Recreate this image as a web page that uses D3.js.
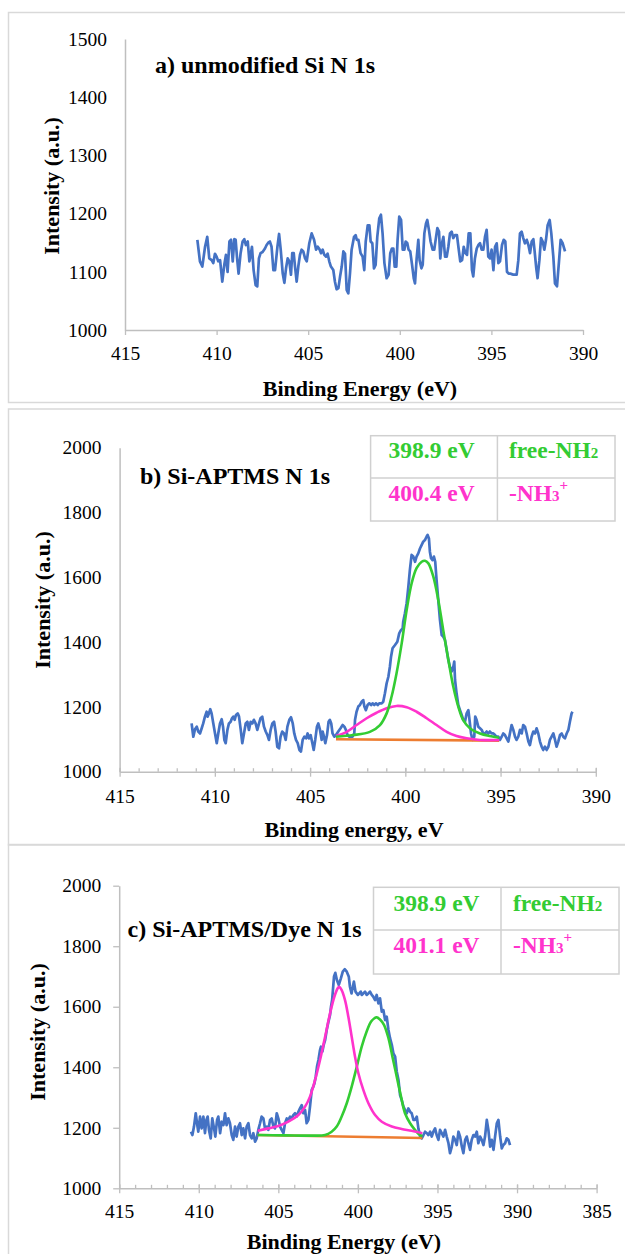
<!DOCTYPE html>
<html>
<head>
<meta charset="utf-8">
<script src="https://cdn.jsdelivr.net/npm/d3@7"></script>
<style>
  body { margin: 0; background: #fff; }
  text { font-family: "Liberation Serif", "Times New Roman", serif; }
</style>
</head>
<body>
<script>
// ---- panel a: unmodified Si, N 1s ----
const energyA = [
  411.05,410.91,410.78,410.63,410.51,410.40,410.27,410.18,410.09,410.00,
  409.91,409.81,409.69,409.58,409.49,409.40,409.30,409.21,409.12,409.03,
  408.96,408.89,408.80,408.69,408.58,408.49,408.40,408.30,408.21,408.14,
  408.07,407.98,407.87,407.78,407.69,407.60,407.49,407.36,407.27,407.18,
  407.09,407.00,406.90,406.81,406.68,406.59,406.50,406.39,406.30,406.21,
  406.12,406.03,405.94,405.87,405.79,405.72,405.63,405.54,405.45,405.36,
  405.27,405.17,405.08,404.94,404.81,404.68,404.57,404.48,404.39,404.30,
  404.21,404.12,404.03,403.94,403.85,403.76,403.63,403.54,403.45,403.35,
  403.26,403.17,403.08,402.99,402.90,402.81,402.72,402.63,402.50,402.41,
  402.35,402.26,402.14,402.03,401.94,401.86,401.75,401.66,401.59,401.50,
  401.41,401.32,401.23,401.12,401.03,400.94,400.84,400.72,400.61,400.52,
  400.43,400.35,400.28,400.19,400.12,400.03,399.93,399.84,399.75,399.68,
  399.59,399.52,399.43,399.33,399.24,399.17,399.08,398.99,398.92,398.82,
  398.75,398.66,398.57,398.50,398.41,398.32,398.21,398.12,398.02,397.95,
  397.86,397.79,397.72,397.62,397.53,397.44,397.35,397.26,397.17,397.08,
  396.99,396.88,396.79,396.70,396.60,396.51,396.42,396.33,396.24,396.15,
  396.06,395.99,395.90,395.80,395.71,395.62,395.53,395.44,395.35,395.26,
  395.17,395.08,394.99,394.89,394.80,394.71,394.62,394.53,394.42,394.33,
  394.24,394.15,394.06,393.98,393.89,393.80,393.71,393.62,393.53,393.44,
  393.35,393.26,393.17,393.07,392.98,392.89,392.80,392.71,392.64,392.55,
  392.48,392.38,392.29,392.20,392.11,392.02,391.93,391.82,391.73,391.62,
  391.53,391.42,391.31,391.22,391.11,390.98
];
const intensityA = [
  1155,1118,1109,1143,1160,1123,1120,1115,1131,1126,
  1118,1120,1083,1112,1129,1100,1152,1155,1118,1156,
  1155,1126,1097,1132,1152,1156,1146,1152,1118,1129,
  1143,1103,1077,1075,1123,1132,1134,1140,1146,1150,
  1152,1143,1103,1103,1143,1165,1138,1097,1081,1106,
  1123,1118,1095,1132,1132,1109,1083,1109,1129,1138,
  1135,1123,1118,1149,1166,1155,1138,1143,1139,1132,
  1138,1129,1126,1131,1118,1109,1103,1083,1070,1072,
  1092,1109,1135,1131,1069,1063,1097,1138,1160,1163,
  1155,1155,1132,1126,1103,1152,1180,1180,1152,1149,
  1106,1112,1160,1192,1198,1166,1115,1089,1095,1132,
  1140,1140,1109,1109,1155,1195,1189,1138,1138,1152,
  1149,1138,1135,1112,1089,1080,1123,1155,1120,1106,
  1112,1166,1183,1189,1172,1152,1138,1138,1160,1175,
  1169,1123,1146,1160,1126,1126,1143,1166,1169,1158,
  1163,1163,1140,1118,1120,1143,1132,1129,1166,1166,
  1103,1092,1123,1140,1146,1149,1138,1138,1160,1172,
  1126,1123,1138,1103,1143,1149,1115,1118,1146,1155,
  1152,1100,1097,1097,1096,1095,1095,1095,1120,1166,
  1169,1158,1149,1155,1146,1132,1152,1156,1135,1106,
  1089,1120,1158,1152,1138,1155,1180,1189,1166,1126,
  1080,1075,1118,1155,1149,1135
];

// ---- panel b: Si-APTMS, N 1s ----
const energyB = [
  411.22,411.13,411.04,410.95,410.87,410.78,410.69,410.61,410.52,410.43,
  410.38,410.31,410.24,410.17,410.08,409.99,409.90,409.82,409.73,409.64,
  409.57,409.50,409.43,409.34,409.26,409.17,409.10,409.03,408.96,408.89,
  408.80,408.73,408.64,408.56,408.47,408.38,408.29,408.21,408.12,408.03,
  407.95,407.86,407.77,407.68,407.60,407.51,407.42,407.33,407.24,407.16,
  407.07,406.98,406.89,406.81,406.72,406.63,406.55,406.46,406.37,406.28,
  406.19,406.09,406.00,405.91,405.83,405.74,405.65,405.56,405.48,405.39,
  405.30,405.21,405.13,405.06,404.97,404.88,404.81,404.73,404.64,404.57,
  404.48,404.39,404.34,404.27,404.20,404.11,404.03,403.96,403.89,403.82,
  403.73,403.64,403.52,403.40,403.29,403.20,403.12,403.03,402.94,402.85,
  402.77,402.68,402.64,402.56,402.47,402.38,402.29,402.21,402.15,402.07,
  401.98,401.89,401.80,401.72,401.63,401.54,401.45,401.37,401.24,401.16,
  401.07,400.98,400.89,400.81,400.75,400.67,400.54,400.42,400.32,400.23,
  400.14,400.11,400.02,399.93,399.84,399.76,399.67,399.58,399.49,399.41,
  399.32,399.23,399.14,399.06,398.97,398.88,398.83,398.76,398.71,398.65,
  398.57,398.50,398.43,398.36,398.27,398.18,398.09,398.01,397.92,397.83,
  397.74,397.66,397.57,397.48,397.43,397.39,397.31,397.22,397.13,397.04,
  396.96,396.87,396.78,396.69,396.64,396.55,396.47,396.38,396.33,396.26,
  396.17,396.08,395.99,395.91,395.82,395.73,395.64,395.56,395.47,395.38,
  395.29,395.21,395.12,395.03,394.94,394.86,394.77,394.68,394.59,394.51,
  394.42,394.33,394.24,394.16,394.07,393.98,393.89,393.81,393.72,393.63,
  393.54,393.46,393.37,393.28,393.19,393.11,393.02,392.93,392.84,392.76,
  392.67,392.58,392.49,392.41,392.32,392.23,392.14,392.06,391.97,391.88,
  391.79,391.71,391.62,391.53,391.44,391.36,391.27,391.22
];
const intensityB = [
  1149,1108,1131,1139,1124,1118,1134,1149,1170,1185,
  1170,1180,1193,1180,1149,1118,1088,1118,1149,1162,
  1139,1098,1088,1129,1149,1154,1165,1170,1160,1175,
  1180,1170,1129,1088,1118,1149,1154,1129,1154,1149,
  1160,1149,1129,1149,1165,1170,1139,1124,1113,1098,
  1129,1149,1154,1124,1077,1072,1108,1124,1118,1098,
  1139,1160,1168,1149,1118,1098,1088,1067,1062,1098,
  1108,1103,1118,1103,1113,1088,1067,1098,1139,1149,
  1129,1098,1124,1108,1088,1113,1154,1160,1149,1118,
  1108,1113,1124,1134,1144,1139,1129,1113,1108,1108,
  1108,1118,1160,1185,1201,1206,1216,1221,1201,1190,
  1206,1211,1206,1211,1206,1211,1206,1211,1211,1216,
  1242,1273,1293,1324,1355,1381,1391,1401,1427,1437,
  1442,1463,1489,1520,1571,1623,1669,1664,1648,1664,
  1674,1689,1700,1710,1715,1726,1731,1720,1679,1659,
  1653,1664,1648,1592,1530,1468,1422,1417,1407,1376,
  1345,1324,1309,1324,1340,1283,1242,1206,1190,1175,
  1160,1154,1180,1190,1165,1118,1098,1108,1170,1160,
  1139,1134,1129,1118,1118,1124,1118,1124,1118,1118,
  1113,1108,1108,1098,1108,1118,1113,1103,1093,1118,
  1144,1129,1108,1098,1108,1129,1118,1144,1139,1118,
  1093,1082,1108,1124,1118,1134,1118,1093,1077,1067,
  1077,1067,1077,1098,1108,1118,1098,1077,1093,1113,
  1118,1108,1103,1118,1129,1154,1180,1185
];
// fitted components, panel b
const fitEnergyGreenB = [403.64,402.73,401.86,401.33,400.98,400.72,400.46,400.19,399.93,399.67,399.41,399.14,398.97,398.79,398.53,398.27,398.01,397.74,397.48,397.22,396.96,396.61,396.08,395.56,395.07];
const fitGreenB = [1108,1113,1123,1144,1180,1232,1304,1396,1499,1581,1628,1648,1651,1643,1602,1530,1437,1345,1262,1201,1159,1134,1118,1110,1105];
const fitEnergyMagentaB = [403.64,403.08,402.56,402.03,401.51,400.98,400.46,399.93,399.41,398.88,398.36,397.83,397.31,396.78,396.08,395.07];
const fitMagentaB = [1110,1123,1144,1165,1182,1196,1203,1199,1185,1165,1144,1123,1110,1103,1098,1098];
const baseEnergyB = [403.64,395.07];
const baseB = [1100,1096];

// ---- panel c: Si-APTMS/Dye, N 1s ----
const energyC = [
  410.49,410.40,410.30,410.19,410.11,410.03,409.92,409.82,409.71,409.61,
  409.52,409.44,409.36,409.25,409.15,409.04,408.96,408.85,408.77,408.66,
  408.56,408.45,408.35,408.25,408.14,408.04,407.93,407.83,407.72,407.62,
  407.51,407.41,407.30,407.20,407.09,406.99,406.88,406.78,406.67,406.57,
  406.46,406.36,406.26,406.15,406.05,405.94,405.84,405.73,405.63,405.52,
  405.42,405.31,405.21,405.10,405.00,404.89,404.79,404.68,404.58,404.47,
  404.37,404.26,404.16,404.06,403.95,403.85,403.74,403.64,403.53,403.43,
  403.32,403.22,403.11,403.01,402.90,402.80,402.73,402.65,402.57,402.48,
  402.38,402.32,402.23,402.15,402.06,401.96,401.85,401.75,401.69,401.62,
  401.50,401.42,401.32,401.20,401.07,400.95,400.82,400.70,400.57,400.50,
  400.40,400.32,400.25,400.15,400.00,399.82,399.76,399.66,399.55,399.45,
  399.34,399.24,399.13,399.03,398.92,398.82,398.71,398.61,398.50,398.40,
  398.29,398.19,398.08,397.98,397.87,397.77,397.66,397.56,397.45,397.35,
  397.25,397.14,397.04,396.93,396.83,396.72,396.62,396.51,396.41,396.30,
  396.20,396.09,395.99,395.88,395.78,395.67,395.57,395.46,395.36,395.26,
  395.15,395.05,394.94,394.84,394.73,394.63,394.52,394.42,394.31,394.21,
  394.10,394.00,393.89,393.79,393.68,393.58,393.47,393.37,393.26,393.16,
  393.06,392.95,392.85,392.74,392.64,392.53,392.43,392.32,392.22,392.11,
  392.01,391.90,391.80,391.69,391.59,391.48,391.38,391.27,391.17,391.06,
  390.96,390.86,390.75,390.65,390.54,390.44
];
const intensityC = [
  1187,1176,1204,1248,1215,1187,1237,1198,1237,1182,
  1226,1237,1193,1165,1231,1198,1171,1226,1237,1182,
  1220,1209,1248,1209,1231,1215,1176,1160,1204,1171,
  1204,1215,1176,1198,1165,1204,1215,1176,1165,1182,
  1154,1165,1193,1215,1237,1231,1198,1204,1193,1226,
  1231,1204,1198,1248,1231,1204,1193,1182,1215,1231,
  1226,1237,1231,1242,1248,1237,1253,1264,1275,1248,
  1259,1215,1226,1270,1325,1336,1347,1369,1402,1424,
  1457,1468,1452,1474,1490,1523,1551,1573,1600,1622,
  1700,1712,1688,1672,1694,1716,1724,1716,1699,1666,
  1644,1666,1683,1650,1639,1650,1639,1644,1650,1639,
  1644,1650,1639,1633,1622,1639,1611,1628,1584,1589,
  1556,1567,1523,1496,1474,1446,1435,1386,1358,1308,
  1292,1270,1259,1248,1264,1253,1248,1226,1226,1237,
  1198,1171,1165,1176,1187,1182,1176,1187,1171,1187,
  1198,1176,1160,1193,1182,1171,1193,1171,1149,1116,
  1138,1171,1160,1143,1187,1171,1138,1116,1160,1171,
  1149,1127,1160,1176,1171,1187,1149,1171,1160,1143,
  1171,1226,1193,1138,1160,1127,1171,1215,1226,1171,
  1132,1143,1149,1165,1160,1143
];
// fitted components, panel c
const fitEnergyMagentaC = [406.30,405.63,405.00,404.37,403.74,403.32,403.01,402.69,402.38,402.06,401.75,401.48,401.27,401.18,401.02,400.81,400.60,400.39,400.18,399.97,399.66,399.34,398.92,398.50,397.87,397.25,396.62,395.95];
const fitMagentaC = [1190,1198,1206,1220,1242,1270,1303,1358,1424,1501,1578,1633,1661,1666,1655,1622,1567,1501,1435,1380,1325,1281,1242,1220,1204,1196,1190,1182];
const fitEnergyGreenC = [406.30,404.58,402.90,402.06,401.65,401.33,401.02,400.70,400.39,400.07,399.76,399.45,399.17,398.96,398.82,398.61,398.36,398.08,397.83,397.56,397.29,397.04,396.72,396.41,396.20,395.95];
const fitGreenC = [1176,1175,1174,1176,1187,1204,1237,1281,1336,1402,1468,1518,1551,1562,1565,1558,1540,1496,1435,1369,1303,1248,1215,1193,1180,1172];
const baseEnergyC = [406.30,395.95];
const baseC = [1176,1166];

// axis ticks
const xTicksAB = [415, 410, 405, 400, 395, 390];
const xTicksC = [415, 410, 405, 400, 395, 390, 385];
const yTicksA = [1000, 1100, 1200, 1300, 1400, 1500];
const yTicksBC = [1000, 1200, 1400, 1600, 1800, 2000];

const blue = "#4472c4", green = "#33cc33", magenta = "#ff33cc", orange = "#ed7d31";
const axisGray = "#bfbfbf", frameGray = "#d9d9d9";
const serif = "Liberation Serif, Times New Roman, serif";

const svg = d3.select("body").append("svg")
  .attr("width", 625)
  .attr("height", 1254);

// panel frames
[[8, 12, 390], [8, 408.5, 436], [8, 844, 420]].forEach(([x, y, h]) => {
  svg.append("rect")
    .attr("x", x + 0.5).attr("y", y + 0.5)
    .attr("width", 630).attr("height", h)
    .attr("fill", "none")
    .attr("stroke", frameGray)
    .attr("stroke-width", 1.5);
});

function zip(es, vs) {
  return es.map((e, i) => [e, vs[i]]);
}

function drawPanel(p) {
  const x = d3.scaleLinear().domain(p.xDomain).range(p.xRange);
  const y = d3.scaleLinear().domain(p.yDomain).range(p.yRange);
  const g = svg.append("g");

  // minor ticks every 1 eV
  if (p.minor) {
    const minor = g.append("g")
      .attr("transform", `translate(0,${p.yRange[0]})`)
      .call(d3.axisTop(x).tickValues(d3.range(p.xDomain[0], p.xDomain[1] - 0.5, -1)).tickSize(3.5).tickFormat(""));
    minor.select(".domain").remove();
    minor.selectAll("line").attr("stroke", axisGray).attr("stroke-width", 1.3);
  }

  // x axis
  const xa = g.append("g")
    .attr("transform", `translate(0,${p.yRange[0]})`)
    .call(d3.axisBottom(x).tickValues(p.xTicks).tickSize(5).tickSizeOuter(0).tickFormat(d3.format("d")))
    .attr("font-family", serif)
    .attr("font-size", 19.5);
  xa.select(".domain").attr("stroke", axisGray).attr("stroke-width", 1.5);
  xa.selectAll("line").attr("stroke", axisGray).attr("stroke-width", 1.3)
    .attr("y1", p.minor ? -4 : 0);
  xa.selectAll("text")
    .attr("y", p.xLabelY).attr("dy", null)
    .attr("fill", "#000");

  // y axis
  const ya = g.append("g")
    .attr("transform", `translate(${p.xRange[0]},0)`)
    .call(d3.axisLeft(y).tickValues(p.yTicks).tickSize(p.yTickSize).tickSizeOuter(0)
      .tickPadding(18 - p.yTickSize).tickFormat(d3.format("d")))
    .attr("font-family", serif)
    .attr("font-size", 19.5);
  ya.select(".domain").attr("stroke", axisGray).attr("stroke-width", 1.5);
  ya.selectAll("line").attr("stroke", axisGray).attr("stroke-width", 1.3);
  ya.selectAll("text").attr("fill", "#000");

  const line = d3.line().x(d => x(d[0])).y(d => y(d[1]));
  const smooth = d3.line().x(d => x(d[0])).y(d => y(d[1])).curve(d3.curveCatmullRom);

  g.append("path")
    .attr("d", line(zip(p.energy, p.intensity)))
    .attr("fill", "none")
    .attr("stroke", blue)
    .attr("stroke-width", 2.7)
    .attr("stroke-linejoin", "round");

  (p.fits || []).forEach(f => {
    g.append("path")
      .attr("d", smooth(zip(f.e, f.v)))
      .attr("fill", "none")
      .attr("stroke", f.color)
      .attr("stroke-width", 2.6);
  });

  // panel title
  g.append("text")
    .attr("x", p.title[1]).attr("y", p.title[2])
    .style("font-size", "24px").style("font-weight", "bold")
    .text(p.title[0]);

  // axis titles
  g.append("text")
    .attr("transform", `translate(${p.yTitle[0]},${p.yTitle[1]}) rotate(-90)`)
    .attr("text-anchor", "middle")
    .style("font-size", "22px").style("font-weight", "bold")
    .text("Intensity (a.u.)");
  g.append("text")
    .attr("x", p.xTitle[1]).attr("y", p.xTitle[2])
    .attr("text-anchor", "middle")
    .style("font-size", "22px").style("font-weight", "bold")
    .text(p.xTitle[0]);

  // peak table
  if (p.table) {
    const t = p.table;
    const tg = g.append("g");
    tg.append("rect")
      .attr("x", t.x).attr("y", t.y).attr("width", t.w).attr("height", t.h)
      .attr("fill", "#fff").attr("stroke", "#d0d0d0").attr("stroke-width", 1.5);
    tg.append("line").attr("x1", t.x).attr("x2", t.x + t.w).attr("y1", t.rowY).attr("y2", t.rowY)
      .attr("stroke", "#d0d0d0").attr("stroke-width", 1.5);
    tg.append("line").attr("x1", t.colX).attr("x2", t.colX).attr("y1", t.y).attr("y2", t.y + t.h)
      .attr("stroke", "#d0d0d0").attr("stroke-width", 1.5);

    const cell = (xx, yy, color) => tg.append("text")
      .attr("x", xx).attr("y", yy)
      .attr("fill", color)
      .style("font-size", "23.5px").style("font-weight", "bold");

    cell(t.tx1, t.ty1, green).text(t.rows[0]);
    const c2 = cell(t.tx2, t.ty1, green);
    c2.append("tspan").text("free-NH");
    c2.append("tspan").style("font-size", "15px").text("2");
    cell(t.tx1, t.ty2, magenta).text(t.rows[1]);
    const c4 = cell(t.tx2, t.ty2, magenta);
    c4.append("tspan").text("-NH");
    c4.append("tspan").style("font-size", "15px").text("3");
    c4.append("tspan").style("font-size", "15px").attr("dy", -11).text("+");
  }
}

drawPanel({
  xDomain: [415, 390], xRange: [125, 583],
  yDomain: [1000, 1500], yRange: [330, 39],
  xTicks: xTicksAB, yTicks: yTicksA, minor: false, yTickSize: 0,
  xLabelY: 29.5,
  energy: energyA, intensity: intensityA,
  title: ["a) unmodified Si N 1s", 155, 73],
  yTitle: [59, 186],
  xTitle: ["Binding Energy (eV)", 360, 396]
});

drawPanel({
  xDomain: [415, 390], xRange: [119.6, 595.8],
  yDomain: [1000, 2000], yRange: [771.7, 447.7],
  xTicks: xTicksAB, yTicks: yTicksBC, minor: true, yTickSize: 0,
  xLabelY: 31,
  energy: energyB, intensity: intensityB,
  fits: [
    { e: baseEnergyB, v: baseB, color: orange },
    { e: fitEnergyMagentaB, v: fitMagentaB, color: magenta },
    { e: fitEnergyGreenB, v: fitGreenB, color: green }
  ],
  title: ["b) Si-APTMS N 1s", 140, 484],
  yTitle: [50, 600],
  xTitle: ["Binding energy, eV", 354, 837],
  table: {
    x: 370.6, y: 435.7, w: 244.4, h: 85.3, rowY: 478, colX: 497.4,
    tx1: 388.6, tx2: 509, ty1: 458.3, ty2: 500.7,
    rows: ["398.9 eV", "400.4 eV"]
  }
});

drawPanel({
  xDomain: [415, 385], xRange: [119.2, 596.6],
  yDomain: [1000, 2000], yRange: [1188.3, 885.7],
  xTicks: xTicksC, yTicks: yTicksBC, minor: true, yTickSize: 6,
  xLabelY: 30,
  energy: energyC, intensity: intensityC,
  fits: [
    { e: baseEnergyC, v: baseC, color: orange },
    { e: fitEnergyGreenC, v: fitGreenC, color: green },
    { e: fitEnergyMagentaC, v: fitMagentaC, color: magenta }
  ],
  title: ["c) Si-APTMS/Dye N 1s", 127.5, 937],
  yTitle: [44.6, 1032],
  xTitle: ["Binding Energy (eV)", 344, 1249],
  table: {
    x: 373.5, y: 887.3, w: 245.5, h: 86.7, rowY: 930, colX: 501,
    tx1: 393.4, tx2: 513, ty1: 910.7, ty2: 953.3,
    rows: ["398.9 eV", "401.1 eV"]
  }
});
</script>
</body>
</html>
